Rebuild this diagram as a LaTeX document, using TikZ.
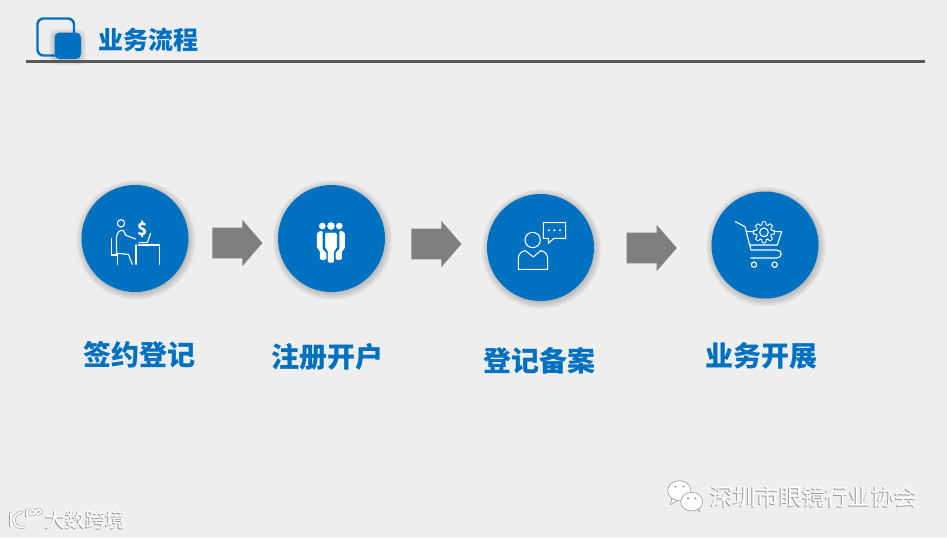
\documentclass[tikz,border=0pt]{standalone}
\usepackage{fontspec}
\setmainfont{Noto Sans CJK SC}
\usetikzlibrary{shapes.arrows}
\definecolor{bgGray}{HTML}{EEEEEE}
\definecolor{mainBlue}{HTML}{0070C0}
\definecolor{ruleGray}{HTML}{595959}
\definecolor{arrowGray}{HTML}{7F7F7F}
\definecolor{markGray}{HTML}{9A9A9A}
\newcommand{\embossed}[1]{{\color{markGray}\rlap{\kern-.7pt\raisebox{-.7pt}{#1}}}{\color{white}#1}}
\tikzset{
	stepcircle/.style={circle,fill=mainBlue,minimum size=107pt,inner sep=0pt},
	steparrow/.style={single arrow,fill=arrowGray,inner xsep=0pt,inner ysep=15.2pt,minimum height=50pt,anchor=tip,
		single arrow head extend=7.8pt,single arrow tip angle=98,single arrow head indent=0pt},
	steplabel/.style={text=mainBlue,font=\fontsize{28}{30}\selectfont\bfseries},
	iconline/.style={white,line width=1.1pt,line join=round,line cap=round},
	markline/.style={markGray,line width=3pt,line cap=round},
	markwhite/.style={white,line width=1.9pt,line cap=round},
	zoomA/.style={shift={(70,175)},scale=0.3333},
	zoomB/.style={shift={(480,180)},scale=0.3333}
}
\begin{document}
\begin{tikzpicture}[x=1pt,y=-1pt,line join=round]
	\fill [bgGray] (0,0) rectangle (947,538);
	\useasboundingbox (0,0) rectangle (947,538);
	% header
	\foreach \r in {0,1,...,4}
		\fill [black,opacity=.03,rounded corners=6pt] (53-\r,33-\r) rectangle (82+\r,61+\r);
	\draw [mainBlue,line width=2.4pt,rounded corners=6pt] (37.5,18.5) rectangle (74,55.5);
	\fill [mainBlue,rounded corners=5pt] (54.5,32.5) rectangle (81,59);
	\node [text=mainBlue,font=\fontsize{25}{28}\selectfont\bfseries] (title) at (148.5,39.5) {业务流程};
	\draw [ruleGray,line width=3pt] (26,61.5)-- (925,61.5);
	% soft shadows
	\foreach \cx/\cy in {135/238.5,331.5/238.5,540.5/247.5,765/245}
		\foreach \r in {53,54,...,60}
			\fill [black,opacity=.028] (\cx+1,\cy+1.5) circle (\r);
	% circles
	\node [stepcircle] (sign) at (135,238.5) {};
	\node [stepcircle] (open) at (331.5,238.5) {};
	\node [stepcircle] (record) at (540.5,247.5) {};
	\node [stepcircle] (trade) at (765,245) {};
	% arrows
	\node [steparrow] (arrowA) at (262.7,243) {};
	\node [steparrow] (arrowB) at (461.7,244) {};
	\node [steparrow] (arrowC) at (677,248) {};
	% labels
	\node [steplabel] (signText) at (139,355) {签约登记};
	\node [steplabel] (openText) at (327,357) {注册开户};
	\node [steplabel] (recordText) at (539,361) {登记备案};
	\node [steplabel] (tradeText) at (761,356) {业务开展};
	% icon of the first circle
	\begin{scope}[zoomA]
		\draw [iconline] (153,145) circle (11);
		\draw [iconline] (197,192)-- (168,181)-- (160,167) .. controls (150,163) and (140,172) .. (139,190)-- (140,235)-- (175,238)-- (187,268);
		\draw [iconline] (125,190)-- (125,240)-- (143,240)-- (143,268);
		\draw [iconline] (205,210)-- (268,210)-- (268,268);
		\draw [iconline] (198,210)-- (198,268);
		\draw [iconline] (207,203)-- (232,203)-- (242,175);
		\node [text=white,font=\fontsize{17}{17}\selectfont\bfseries] (dollar) at (217,162) {\$};
	\end{scope}
	% icon of the second circle
	\begin{scope}[zoomA]
		\fill [white] (757,153) circle (10);
		\fill [white] (808,153) circle (10);
		\fill [white,rounded corners=1.5pt] (741,172)-- (758,166)-- (758,226)-- (769,230)-- (769,255)-- (750,255)-- (750,226)-- (741,222)-- cycle;
		\fill [white,rounded corners=1.5pt] (825,172)-- (808,166)-- (808,226)-- (797,230)-- (797,255)-- (816,255)-- (816,226)-- (825,222)-- cycle;
		\fill [mainBlue] (783,153) circle (14);
		\fill [white] (783,153) circle (11.5);
		\draw [mainBlue,line width=.8pt,fill=white,rounded corners=1.5pt] (764,172)-- (802,172)-- (802,222)-- (794,226)-- (794,264)-- (772,264)-- (772,226)-- (764,222)-- cycle;
	\end{scope}
	% icon of the third circle
	\begin{scope}[zoomB]
		\draw [iconline] (158,180) circle (23);
		\draw [iconline] (115,268)-- (115,236) .. controls (115,222) and (125,213) .. (136,212)-- (160,231)-- (182,212) .. controls (193,213) and (203,222) .. (203,236)-- (203,268)-- cycle;
		\draw [iconline] (190,128)-- (257,128)-- (257,175)-- (222,175)-- (205,190)-- (205,175)-- (190,175)-- cycle;
		\foreach \x in {207,223,240}
			\fill [white] (\x,151) circle (3.5);
	\end{scope}
	% icon of the fourth circle
	\begin{scope}[zoomB]
		\draw [iconline] (766,125)-- (795,140)-- (813,210)-- (890,210) .. controls (908,210) and (908,234) .. (890,234)-- (812,234);
		\draw [iconline] (800,155)-- (905,155)-- (892,195)-- (808,195);
		\fill [mainBlue] (852,157) circle (29);
		\foreach \a in {0,45,...,315}
			\draw [iconline,line width=.9pt,shift={(852,157)}] (\a-17:23)-- (\a-9:32)-- (\a+9:32)-- (\a+17:23)-- (\a+28:23);
		\draw [iconline] (852,157) circle (13);
		\draw [iconline] (822,254) circle (8);
		\draw [iconline] (884,254) circle (8);
	\end{scope}
	% wechat mark
	\begin{scope}[shift={(660,470)},scale=0.3333]
		\draw [markGray,fill=white,line width=.6pt] (35,85)-- (32,104)-- (52,92)-- cycle;
		\draw [markGray,fill=white,line width=.6pt] (58,62) ellipse [x radius=35,y radius=30];
		\draw [markGray,fill=white,line width=.6pt] (105,115)-- (120,125)-- (118,108)-- cycle;
		\draw [markGray,fill=white,line width=.6pt] (95,95) ellipse [x radius=33,y radius=28];
		\foreach \x/\y in {46/50,70/50,84/85,106/85}
			\fill [markGray] (\x,\y) circle (3.5);
	\end{scope}
	\node [font=\fontsize{23}{25}\selectfont] (assocText) at (813.5,497) {\embossed{深圳市眼镜行业协会}};
	% logo mark
	\begin{scope}[shift={(0,470)},scale=0.3333]
		\draw [markline] (32,130)-- (32,168);
		\draw [markline] (65,126) .. controls (48,132) and (42,140) .. (42,150) .. controls (42,165) and (55,176) .. (72,172);
		\draw [markline] (80,120)-- (80,138);
		\draw [markline] (97,127) ellipse [x radius=8,y radius=7];
		\draw [markline] (115,125) ellipse [x radius=8,y radius=7];
		\draw [markwhite] (32,130)-- (32,168);
		\draw [markwhite] (65,126) .. controls (48,132) and (42,140) .. (42,150) .. controls (42,165) and (55,176) .. (72,172);
		\draw [markwhite] (80,120)-- (80,138);
		\draw [markwhite] (97,127) ellipse [x radius=8,y radius=7];
		\draw [markwhite] (115,125) ellipse [x radius=8,y radius=7];
	\end{scope}
	\node [font=\fontsize{20}{22}\selectfont] (logoText) at (85,520.5) {\embossed{大数跨境}};
\end{tikzpicture}
\end{document}
